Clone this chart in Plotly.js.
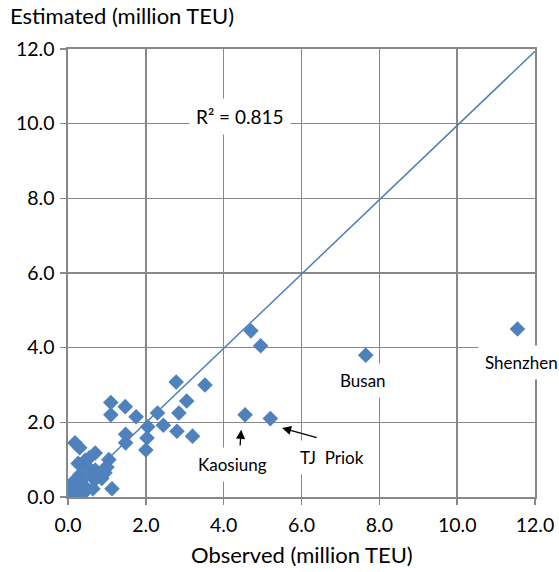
<!DOCTYPE html>
<html>
<head>
<meta charset="utf-8">
<script src="https://cdn.plot.ly/plotly-3.0.1.min.js"></script>
<style>html,body{margin:0;padding:0;background:#fff;}#chart{width:559px;height:572px;}</style>
</head>
<body>
<div id="chart"></div>
<script>
// Observed vs estimated container throughput (million TEU)
var observed = [11.55, 7.65, 5.2, 4.55, 4.7, 4.95, 3.52, 2.78, 3.05, 2.85, 2.3, 3.2, 2.8, 2.45, 2.05, 2.03, 2.0, 1.75, 1.47, 1.1, 1.1, 1.48, 1.48, 0.18, 0.3,
  1.05, 1.0, 0.95, 0.87, 1.13, 0.7, 0.7, 0.55, 0.44, 0.26, 0.31, 0.51, 0.69, 0.64, 0.44, 0.13, 0.05, 0.22, 0.05, 0.3, 0.15, 0.35, 0.6, 0.25, 0.4];
var estimated = [4.5, 3.8, 2.1, 2.2, 4.45, 4.05, 3.0, 3.08, 2.57, 2.25, 2.25, 1.63, 1.76, 1.92, 1.88, 1.58, 1.26, 2.15, 2.42, 2.53, 2.2, 1.68, 1.45, 1.45, 1.32,
  1.0, 0.8, 0.65, 0.5, 0.22, 1.18, 0.72, 1.05, 0.98, 0.9, 0.6, 0.8, 0.46, 0.22, 0.27, 0.4, 0.18, 0.1, 0.05, 0.3, 0.25, 0.45, 0.6, 0.15, 0.1];
var fitX = [0, 12];
var fitSlope = 0.995;
var rSquared = "0.815";
var tickVals = [0, 2, 4, 6, 8, 10, 12];
var tickText = ["0.0", "2.0", "4.0", "6.0", "8.0", "10.0", "12.0"];
var namedPorts = ["Shenzhen", "Busan", "TJ\u00a0\u00a0Priok", "Kaosiung"];

var FONT = "Lato, 'Open Sans', sans-serif";
var blue = "#4f81bd";
var grid = "#888888";

var traces = [
  {x: fitX, y: fitX.map(function(v){return v*fitSlope;}), mode: "lines", type: "scatter",
   line: {color: "#4a7ebb", width: 1.5}, hoverinfo: "skip", showlegend: false},
  {x: observed, y: estimated, mode: "markers", type: "scatter",
   marker: {symbol: "diamond", size: 12, color: blue}, showlegend: false}
];

function lbl(text, x, y, size) {
  return {text: text, x: x, y: y, xref: "x", yref: "y", showarrow: false,
    font: {family: FONT, size: size, color: "#000"}, bgcolor: "#ffffff", borderpad: 6};
}
function arr(x, y, ax, ay) {
  return {text: "", x: x, y: y, ax: ax, ay: ay, xref: "x", yref: "y", axref: "x", ayref: "y",
    showarrow: true, arrowhead: 2, arrowsize: 1.4, arrowwidth: 1.3, arrowcolor: "#000"};
}

var annotations = [
  lbl("R\u00b2 = " + rSquared, 4.42, 10.2, 19),
  lbl(namedPorts[0], 11.65, 3.59, 17),
  lbl(namedPorts[1], 7.58, 3.13, 17),
  lbl(namedPorts[3], 4.22, 0.88, 17),
  lbl(namedPorts[2], 6.79, 1.07, 17),
  arr(4.45, 1.8, 4.42, 1.34),
  arr(5.5, 1.85, 6.43, 1.58),
  {text: "Estimated (million TEU)", xref: "paper", yref: "paper", x: -0.128, y: 1.075,
   xanchor: "left", yanchor: "middle", showarrow: false, font: {family: FONT, size: 22, color: "#000"}},
  {text: "Observed (million TEU)", xref: "paper", yref: "paper", x: 0.5, y: -0.128,
   xanchor: "center", yanchor: "middle", showarrow: false, font: {family: FONT, size: 22, color: "#000"}}
];

var axisCommon = {
  range: [0, 12], tickvals: tickVals, ticktext: tickText,
  showgrid: true, gridcolor: grid, gridwidth: 1.6,
  showline: true, linecolor: grid, linewidth: 1.6, mirror: true,
  ticks: "outside", ticklen: 6, tickcolor: grid, tickwidth: 1.6,
  zeroline: false, tickfont: {family: FONT, size: 19.5, color: "#000"}, fixedrange: true
};

var layout = {
  width: 559, height: 572,
  margin: {l: 68, r: 24, t: 49, b: 75},
  paper_bgcolor: "#fff", plot_bgcolor: "#fff",
  xaxis: Object.assign({}, axisCommon, {ticklabelstandoff: 4}),
  yaxis: Object.assign({}, axisCommon, {ticklabelstandoff: 2}),
  annotations: annotations,
  showlegend: false
};

Plotly.newPlot("chart", traces, layout, {displayModeBar: false, staticPlot: true});
</script>
</body>
</html>
